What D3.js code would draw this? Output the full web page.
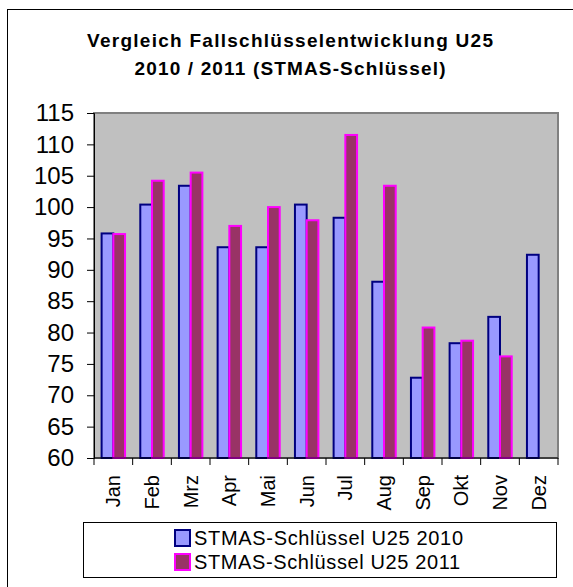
<!DOCTYPE html>
<html>
<head>
<meta charset="utf-8">
<script src="https://cdn.jsdelivr.net/npm/d3@7"></script>
<style>
  body { margin: 0; background: #fff; }
  text { font-family: "Liberation Sans", Arial, sans-serif; fill: #000; }
</style>
</head>
<body>
<svg id="chart"></svg>
<script>
// data
var months = ["Jan", "Feb", "Mrz", "Apr", "Mai", "Jun", "Jul", "Aug", "Sep", "Okt", "Nov", "Dez"];
var values2010 = [95.8, 100.4, 103.4, 93.6, 93.6, 100.4, 98.3, 88.1, 72.8, 78.3, 82.5, 92.4];
var values2011 = [95.7, 104.2, 105.5, 97.0, 100.0, 97.9, 111.5, 103.4, 80.8, 78.7, 76.2, null];
var yTicks = [60, 65, 70, 75, 80, 85, 90, 95, 100, 105, 110, 115];
var seriesNames = ["STMAS-Schlüssel U25 2010", "STMAS-Schlüssel U25 2011"];

var width = 573, height = 587;
var plot = {left: 94, right: 558, top: 113, bottom: 458};

var svg = d3.select("#chart")
    .attr("width", width)
    .attr("height", height);

// outer chart frame (right/bottom edges fall outside the picture)
svg.append("rect")
    .attr("x", 7.5).attr("y", 9.5)
    .attr("width", 600).attr("height", 600)
    .attr("fill", "none")
    .attr("stroke", "#000")
    .attr("stroke-width", 1);

// title
svg.append("text")
    .attr("x", 290).attr("y", 47)
    .attr("text-anchor", "middle")
    .attr("font-weight", "bold")
    .attr("font-size", 19)
    .attr("textLength", 406).attr("lengthAdjust", "spacing")
    .text("Vergleich Fallschlüsselentwicklung U25");
svg.append("text")
    .attr("x", 290).attr("y", 75)
    .attr("text-anchor", "middle")
    .attr("font-weight", "bold")
    .attr("font-size", 19)
    .attr("textLength", 311).attr("lengthAdjust", "spacing")
    .text("2010 / 2011 (STMAS-Schlüssel)");

var x = d3.scaleBand()
    .domain(months)
    .range([plot.left, plot.right])
    .paddingInner(0)
    .paddingOuter(0);

var x1 = d3.scaleBand()
    .domain([0, 1])
    .range([0, x.bandwidth()])
    .paddingOuter(0.65)
    .paddingInner(0);

var y = d3.scaleLinear()
    .domain([60, 115])
    .range([plot.bottom, plot.top]);

// plot area
svg.append("rect")
    .attr("x", plot.left).attr("y", plot.top)
    .attr("width", plot.right - plot.left)
    .attr("height", plot.bottom - plot.top)
    .attr("fill", "#c0c0c0")
    .attr("stroke", "#808080")
    .attr("stroke-width", 2);

var series = [
  {values: values2010, fill: "#9999ff", stroke: "#000080"},
  {values: values2011, fill: "#993366", stroke: "#ff00ff"}
];

series.forEach(function(s, si) {
  svg.append("g").selectAll("rect")
    .data(s.values.map(function(v, i) { return {m: months[i], v: v}; })
      .filter(function(d) { return d.v != null; }))
    .enter()
    .append("rect")
    .attr("x", function(d) { return x(d.m) + x1(si); })
    .attr("y", function(d) { return y(d.v); })
    .attr("width", x1.bandwidth())
    .attr("height", function(d) { return plot.bottom - y(d.v); })
    .attr("fill", s.fill)
    .attr("stroke", s.stroke)
    .attr("stroke-width", 2);
});

// y axis
var yAxis = svg.append("g")
    .attr("transform", "translate(" + plot.left + ",0)")
    .call(d3.axisLeft(y).tickValues(yTicks).tickSize(7).tickPadding(13).tickFormat(d3.format("d")));
yAxis.selectAll("text")
    .attr("font-size", 24)
    .attr("font-family", "Liberation Sans, Arial, sans-serif")
    .attr("fill", "#000");
yAxis.selectAll("line, path").attr("stroke", "#000");

// x axis: ticks at category borders
svg.append("line")
    .attr("x1", plot.left).attr("x2", plot.right)
    .attr("y1", plot.bottom).attr("y2", plot.bottom)
    .attr("stroke", "#000");
var borders = months.map(function(m) { return x(m); }).concat([plot.right]);
svg.append("g").selectAll("line")
    .data(borders)
    .enter()
    .append("line")
    .attr("x1", function(d) { return d; }).attr("x2", function(d) { return d; })
    .attr("y1", plot.bottom).attr("y2", plot.bottom + 7)
    .attr("stroke", "#000");

svg.append("g").selectAll("text")
    .data(months)
    .enter()
    .append("text")
    .attr("transform", function(d) {
      return "translate(" + (x(d) + x.bandwidth() / 2 + 7) + "," + 475 + ") rotate(-90)";
    })
    .attr("text-anchor", "end")
    .attr("font-size", 20)
    .text(function(d) { return d; });

// legend
svg.append("rect")
    .attr("x", 83.5).attr("y", 522.5)
    .attr("width", 473).attr("height", 55)
    .attr("fill", "#fff")
    .attr("stroke", "#000");

var legend = svg.append("g").selectAll("g")
    .data(series)
    .enter()
    .append("g")
    .attr("transform", function(d, i) { return "translate(0," + (i * 24) + ")"; });
legend.append("rect")
    .attr("x", 175).attr("y", 530)
    .attr("width", 15).attr("height", 16)
    .attr("fill", function(d) { return d.fill; })
    .attr("stroke", function(d) { return d.stroke; })
    .attr("stroke-width", 2);
legend.append("text")
    .attr("x", 194).attr("y", 545)
    .attr("font-size", 20)
    .attr("textLength", function(d, i) { return i == 0 ? 269 : 266; })
    .attr("lengthAdjust", "spacing")
    .text(function(d, i) { return seriesNames[i]; });
</script>
</body>
</html>
